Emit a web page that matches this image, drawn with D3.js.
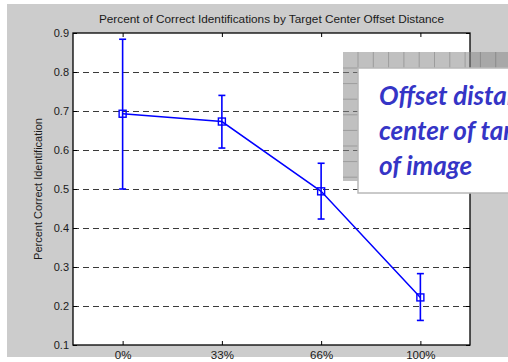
<!DOCTYPE html>
<html>
<head>
<meta charset="utf-8">
<script src="https://cdn.jsdelivr.net/npm/d3@7"></script>
<style>
  html, body { margin: 0; padding: 0; background: #fff; }
  svg { display: block; }
</style>
</head>
<body>
<svg id="chart" width="508" height="362"></svg>
<script>
// Offset-distance categories and identification rates
const categories = ["0%", "33%", "66%", "100%"];
const meanCorrect = [0.693, 0.673, 0.494, 0.222];
const upperBound = [0.884, 0.740, 0.566, 0.283];
const lowerBound = [0.500, 0.605, 0.423, 0.163];
const yTickValues = [0.1, 0.2, 0.3, 0.4, 0.5, 0.6, 0.7, 0.8, 0.9];
const gridValues = [0.2, 0.3, 0.4, 0.5, 0.6, 0.7, 0.8];
const titleText = "Percent of Correct Identifications by Target Center Offset Distance";
const yLabelText = "Percent Correct Identification";
const noteLines = ["Offset distance from", "center of target to center", "of image"];

const W = 508, H = 362;
const plot = { left: 73, right: 470, top: 33, bottom: 345 };

const svg = d3.select("#chart");

// figure background
svg.append("rect").attr("x", 7).attr("y", 4).attr("width", W - 7).attr("height", 353)
  .attr("fill", "#cccccc");

const x = d3.scaleLinear().domain([0.5, categories.length + 0.5]).range([plot.left, plot.right]);
const y = d3.scaleLinear().domain([0.1, 0.9]).range([plot.bottom, plot.top]);

// axes area
svg.append("rect")
  .attr("x", plot.left).attr("y", plot.top)
  .attr("width", plot.right - plot.left).attr("height", plot.bottom - plot.top)
  .attr("fill", "#fff");

// dashed horizontal grid
svg.append("g").selectAll("line").data(gridValues).join("line")
  .attr("x1", plot.left).attr("x2", plot.right)
  .attr("y1", d => Math.round(y(d)) + 0.5).attr("y2", d => Math.round(y(d)) + 0.5)
  .attr("stroke", "#3a3a3a").attr("stroke-width", 1)
  .attr("stroke-dasharray", "6,4");

const font = "'Liberation Sans', Arial, sans-serif";

// left axis (ticks inward)
const yAxis = d3.axisLeft(y).tickValues(yTickValues).tickFormat(d3.format(".1f"))
  .tickSize(-4).tickPadding(4);
const gy = svg.append("g").attr("transform", `translate(${plot.left},0)`).call(yAxis);
gy.select(".domain").remove();
gy.selectAll("line").attr("stroke", "#000");
gy.selectAll("text").attr("font-family", font).attr("font-size", 11).attr("fill", "#1a1a1a");

// right side ticks
const gyr = svg.append("g").attr("transform", `translate(${plot.right},0)`)
  .call(d3.axisRight(y).tickValues(yTickValues).tickSize(-4).tickFormat(""));
gyr.select(".domain").remove();
gyr.selectAll("line").attr("stroke", "#000");

// bottom axis (ticks inward)
const xAxis = d3.axisBottom(x).tickValues(d3.range(1, categories.length + 1))
  .tickFormat((d, i) => categories[i]).tickSize(-4).tickPadding(6);
const gx = svg.append("g").attr("transform", `translate(0,${plot.bottom})`).call(xAxis);
gx.select(".domain").remove();
gx.selectAll("line").attr("stroke", "#000");
gx.selectAll("text").attr("font-family", font).attr("font-size", 11.5).attr("fill", "#1a1a1a");

// top ticks
const gxt = svg.append("g").attr("transform", `translate(0,${plot.top})`)
  .call(d3.axisTop(x).tickValues(d3.range(1, categories.length + 1)).tickSize(-4).tickFormat(""));
gxt.select(".domain").remove();
gxt.selectAll("line").attr("stroke", "#000");

// axes box
svg.append("rect")
  .attr("x", plot.left).attr("y", plot.top)
  .attr("width", plot.right - plot.left).attr("height", plot.bottom - plot.top)
  .attr("fill", "none").attr("stroke", "#000").attr("stroke-width", 1.3);

// title and y label
svg.append("text").attr("x", (plot.left + plot.right) / 2).attr("y", 23)
  .attr("text-anchor", "middle").attr("font-family", font).attr("font-size", 11.8)
  .attr("fill", "#1a1a1a").text(titleText);

svg.append("text")
  .attr("transform", `translate(42,${(plot.top + plot.bottom) / 2}) rotate(-90)`)
  .attr("text-anchor", "middle").attr("font-family", font).attr("font-size", 11)
  .attr("fill", "#1a1a1a").text(yLabelText);

// data series
const pts = categories.map((c, i) => ({
  i: i + 1, m: meanCorrect[i], hi: upperBound[i], lo: lowerBound[i]
}));
const blue = "#0000ff";

const eb = svg.append("g").attr("stroke", blue).attr("stroke-width", 1.6).attr("fill", "none");
eb.selectAll(".v").data(pts).join("line")
  .attr("x1", d => x(d.i)).attr("x2", d => x(d.i))
  .attr("y1", d => y(d.hi)).attr("y2", d => y(d.lo));
eb.selectAll(".ct").data(pts).join("line")
  .attr("x1", d => x(d.i) - 3.5).attr("x2", d => x(d.i) + 3.5)
  .attr("y1", d => y(d.hi)).attr("y2", d => y(d.hi));
eb.selectAll(".cb").data(pts).join("line")
  .attr("x1", d => x(d.i) - 3.5).attr("x2", d => x(d.i) + 3.5)
  .attr("y1", d => y(d.lo)).attr("y2", d => y(d.lo));

svg.append("path").datum(pts)
  .attr("d", d3.line().x(d => x(d.i)).y(d => y(d.m)))
  .attr("fill", "none").attr("stroke", blue).attr("stroke-width", 1.5);

svg.append("g").selectAll("rect").data(pts).join("rect")
  .attr("x", d => x(d.i) - 3.5).attr("y", d => y(d.m) - 3.5)
  .attr("width", 7).attr("height", 7)
  .attr("fill", "none").attr("stroke", blue).attr("stroke-width", 1.4);

// overlaid note: translucent grid sheet behind a white text box
const sheet = svg.append("g");
sheet.append("rect").attr("x", 343).attr("y", 52).attr("width", W - 343).attr("height", 129)
  .attr("fill", "rgba(136,136,136,0.53)");
const colLines = d3.range(358, W, 15.3);
const rowLines = d3.range(68, 181, 15.6);
sheet.selectAll(".cl").data(colLines).join("line")
  .attr("x1", d => d).attr("x2", d => d).attr("y1", 52).attr("y2", 68)
  .attr("stroke", "rgba(90,90,90,0.35)").attr("stroke-width", 1);
sheet.selectAll(".rl").data(rowLines).join("line")
  .attr("x1", 343).attr("x2", 358).attr("y1", d => d).attr("y2", d => d)
  .attr("stroke", "rgba(90,90,90,0.35)").attr("stroke-width", 1);

svg.append("rect").attr("x", 358).attr("y", 68).attr("width", 170).attr("height", 125)
  .attr("fill", "#fff").attr("stroke", "#b8b8b8").attr("stroke-width", 1.5);

svg.append("g").selectAll("text").data(noteLines).join("text")
  .attr("x", 379).attr("y", (d, i) => 105 + i * 35)
  .attr("font-family", "Lato, 'Open Sans', sans-serif")
  .attr("font-style", "italic").attr("font-weight", "bold")
  .attr("font-size", 26).attr("fill", "#3535c6")
  .text(d => d);
</script>
</body>
</html>
